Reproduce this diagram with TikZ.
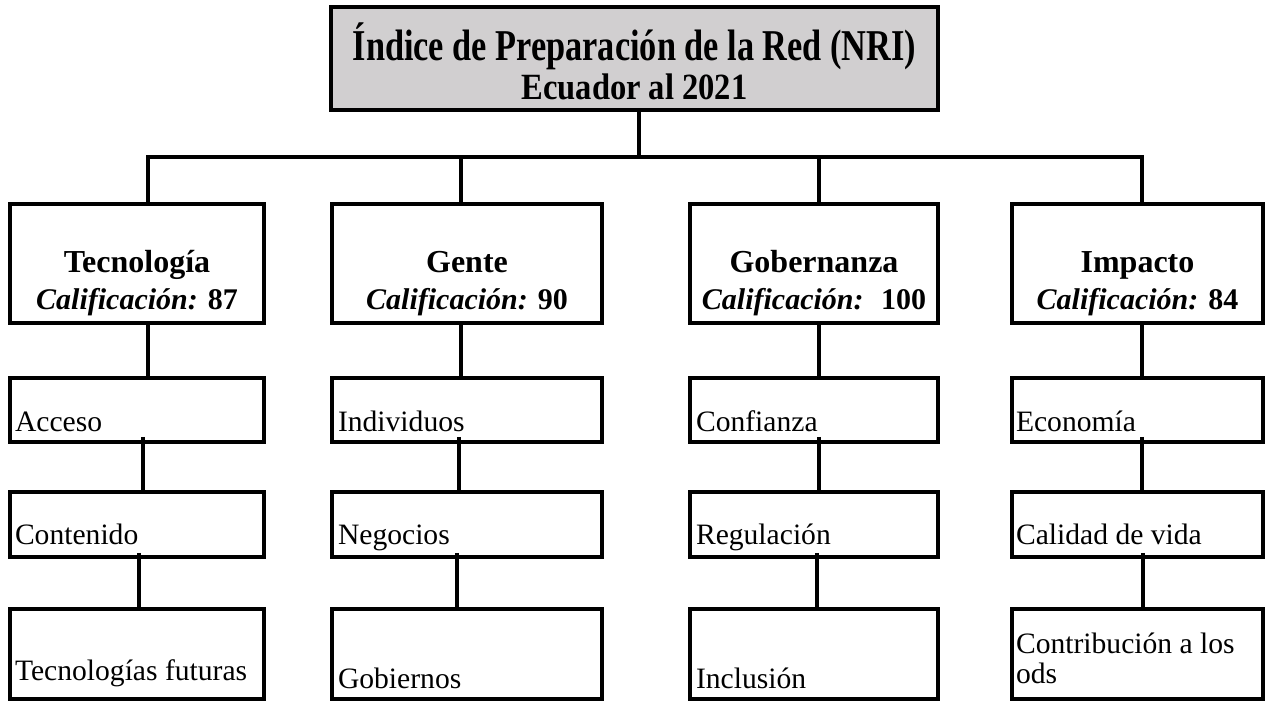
\documentclass[tikz,border=0pt]{standalone}
\usepackage{fontspec}
\setmainfont{Liberation Serif}
\newfontfamily\titulofont[FakeStretch=0.78]{Liberation Serif}
\newfontfamily\subtitulofont[FakeStretch=0.88]{Liberation Serif}
\definecolor{grisnri}{RGB}{209,207,208}

\begin{document}
\begin{tikzpicture}[x=0.5pt, y=-0.5pt, line width=2pt,
    every node/.style={inner sep=0pt, outer sep=0pt},
    caja/.style={draw, rectangle},
    pilar/.style={font=\fontsize{16}{18}\selectfont\bfseries, anchor=base},
    nota/.style={font=\fontsize{15}{18}\selectfont, anchor=base},
    indicador/.style={font=\fontsize{14.8}{15}\selectfont, anchor=base west, align=left}]
  \useasboundingbox (0,0) rectangle (1267,704);
  \node[caja, fill=grisnri, minimum width=303.5pt, minimum height=51.5pt] (nri) at (634.5,58.5) {};
  \node[anchor=base, font=\titulofont\fontsize{22}{24}\selectfont\bfseries] (nri1) at (634.5,61) {Índice de Preparación de la Red (NRI)};
  \node[anchor=base, font=\subtitulofont\fontsize{18.5}{20}\selectfont\bfseries] (nri2) at (634.5,100) {Ecuador al 2021};
  \coordinate (bus) at (639,157);
  \draw (nri.south -| bus) -- (bus);
  % pilares y sus indicadores
  \foreach \i/\cx/\w/\o/\oa/\ob in {1/137/127/5.5/3/1, 2/467/135/-3/-4/-5, 3/814/124/2.5/2.5/1.5, 4/1137.5/125.5/2.25/2.25/2.75}{
    \node[caja, minimum width=\w pt, minimum height=59.5pt] (p\i) at (\cx,263.5) {};
    \node[caja, minimum width=\w pt, minimum height=32pt] (a\i) at (\cx,410) {};
    \node[caja, minimum width=\w pt, minimum height=32.5pt] (b\i) at (\cx,524.5) {};
    \node[caja, minimum width=\w pt, minimum height=45pt] (c\i) at (\cx,654) {};
    \draw ([xshift=\o pt]p\i.north) |- (bus);
    \draw ([xshift=\o pt]p\i.south) -- ([xshift=\o pt]a\i.north);
    \draw ([xshift=\oa pt, yshift=2.5pt]a\i.south) -- ([xshift=\oa pt]b\i.north);
    \draw ([xshift=\ob pt, yshift=2pt]b\i.south) -- ([xshift=\ob pt]c\i.north);
  }
  \foreach \i/\cx/\nom/\cal in {1/137/Tecnología/87, 2/467/Gente/90, 3/814/Gobernanza/{~100}, 4/1137.5/Impacto/84}{
    \node[pilar] (pn\i) at (\cx,273) {\nom};
    \node[nota] (pc\i) at (\cx,310) {\textbf{\textit{Calificación:}} \textbf{\cal}};
  }
  \foreach \i/\tx/\ta/\tb/\tc/\yc in {1/15/Acceso/Contenido/Tecnologías futuras/680, 2/338/Individuos/Negocios/Gobiernos/688, 3/696/Confianza/Regulación/Inclusión/688, 4/1016/Economía/Calidad de vida/{Contribución a los\\ods}/683}{
    \node[indicador] (ta\i) at (\tx,432) {\ta};
    \node[indicador] (tb\i) at (\tx,545) {\tb};
    \node[indicador] (tc\i) at (\tx,\yc) {\tc};
  }
\end{tikzpicture}
\end{document}
